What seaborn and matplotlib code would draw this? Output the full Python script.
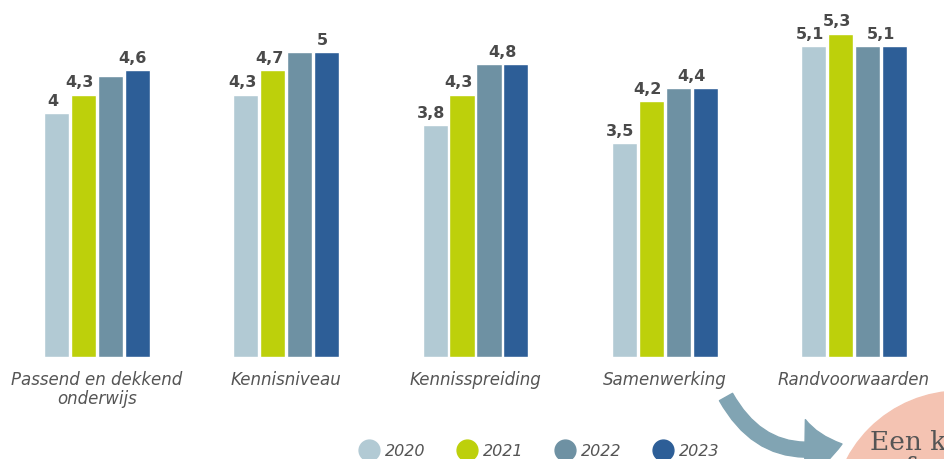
import pandas as pd
import seaborn as sns
import matplotlib.pyplot as plt
from matplotlib.lines import Line2D
from matplotlib.patches import Circle, FancyArrowPatch

categories = ["Passend en dekkend\nonderwijs", "Kennisniveau", "Kennisspreiding",
              "Samenwerking", "Randvoorwaarden"]
years = ["2020", "2021", "2022", "2023"]
v2020 = [4.0, 4.3, 3.8, 3.5, 5.1]
v2021 = [4.3, 4.7, 4.3, 4.2, 5.3]
v2022 = [4.6, 5.0, 4.8, 4.4, 5.1]
v2023 = [4.7, 5.0, 4.8, 4.4, 5.1]

# labels as printed in the chart (not every bar has one)
labels_2020 = ["4", "4,3", "3,8", "3,5", "5,1"]
labels_2021 = ["4,3", "4,7", "4,3", "4,2", "5,3"]
labels_last = ["4,6", "5", "4,8", "4,4", "5,1"]
# last label sits over the 2023 bar (3) or between 2022 and 2023 (2.5)
last_anchor = [3, 3, 2.5, 2.5, 2.5]

colors = ["#b2cad4", "#bdd00b", "#6e91a3", "#2d5e97"]

rows = []
for year, vals in zip(years, [v2020, v2021, v2022, v2023]):
    for cat, v in zip(categories, vals):
        rows.append({"cat": cat, "year": year, "value": v})
df = pd.DataFrame(rows)

sns.set_style("white")
plt.rcParams["font.family"] = ["DejaVu Sans"]

fig = plt.figure(figsize=(9.44, 4.59), dpi=100)
ax = fig.add_axes([0, 102 / 459, 1, 357 / 459])

sns.barplot(data=df, x="cat", y="value", hue="year", palette=colors,
            width=0.57, gap=0.07, saturation=1, legend=False, ax=ax)

ax.set_xlim(-0.513, 4.476)
ax.set_ylim(0, 5.85)
ax.set_xlabel("")
ax.set_ylabel("")
ax.set_yticks([])
sns.despine(ax=ax, left=True, bottom=True)
ax.tick_params(axis="x", length=0, pad=10)
for t in ax.get_xticklabels():
    t.set_fontstyle("italic")
    t.set_fontsize(12)
    t.set_color("#555555")
    t.set_linespacing(1.05)

# value labels
cont = ax.containers
for i in range(len(categories)):
    for k, txt in [(0, labels_2020[i]), (1, labels_2021[i])]:
        b = cont[k][i]
        ax.annotate(txt, (b.get_x() + b.get_width() / 2 - 0.02, b.get_height()),
                    xytext=(0, 3), textcoords="offset points", ha="center", va="bottom",
                    fontsize=11.5, fontweight="bold", color="#4a4a4a")
    b2, b3 = cont[2][i], cont[3][i]
    if last_anchor[i] == 3:
        x = b3.get_x() + b3.get_width() / 2 - 0.025
    else:
        x = (b2.get_x() + b2.get_width() + b3.get_x()) / 2
    ax.annotate(labels_last[i], (x, max(b2.get_height(), b3.get_height())),
                xytext=(0, 3), textcoords="offset points", ha="center", va="bottom",
                fontsize=11.5, fontweight="bold", color="#4a4a4a")

# legend with round markers
handles = [Line2D([], [], marker="o", linestyle="", markersize=15, color=c) for c in colors]
fig.legend(handles, years, loc="center", bbox_to_anchor=(539 / 944, 1 - 451 / 459),
           ncol=4, frameon=False, handletextpad=0.4, columnspacing=2.0,
           handlelength=1.2, labelcolor="#555555",
           prop={"style": "italic", "size": 11.5})

# decoration bottom right: pink circle with text and curved arrow
tr = fig.dpi_scale_trans
fig.add_artist(Circle((9.60, -0.60), 1.28, transform=tr, color="#f4c3b2", zorder=1))
fig.text(8.70, 0.09, "Een kw", transform=tr, fontsize=19, family="DejaVu Serif",
         color="#555555", zorder=2)
fig.text(9.05, -0.17, "f", transform=tr, fontsize=19, family="DejaVu Serif",
         color="#555555", zorder=2)
arrow = FancyArrowPatch((7.26, 0.62), (8.42, 0.15), transform=tr,
                        connectionstyle="arc3,rad=0.4",
                        arrowstyle="simple,head_length=1.5,head_width=2.4,tail_width=0.6",
                        mutation_scale=18, color="#81a4b3", shrinkA=0, shrinkB=0, zorder=1)
fig.add_artist(arrow)

fig.savefig("out.png", dpi=100)
